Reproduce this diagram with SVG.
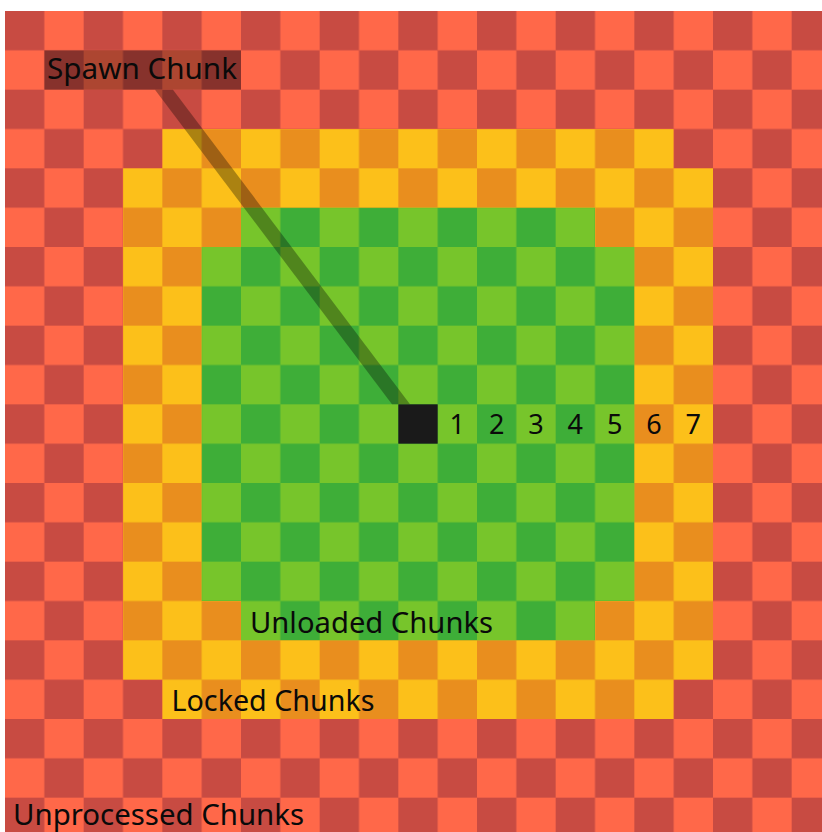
<svg xmlns="http://www.w3.org/2000/svg" width="822" height="832" viewBox="0 0 822 832">
  <defs>
    <pattern id="redChk" patternUnits="userSpaceOnUse" x="5" y="11" width="78.6667" height="78.6667">
      <rect width="78.6667" height="78.6667" fill="#C84B42"/>
      <rect x="39.3333" y="0" width="39.3333" height="39.3333" fill="#FF6849"/>
      <rect x="0" y="39.3333" width="39.3333" height="39.3333" fill="#FF6849"/>
    </pattern>
    <pattern id="yelChk" patternUnits="userSpaceOnUse" x="5" y="11" width="78.6667" height="78.6667">
      <rect width="78.6667" height="78.6667" fill="#E98E1E"/>
      <rect x="39.3333" y="0" width="39.3333" height="39.3333" fill="#FCC01A"/>
      <rect x="0" y="39.3333" width="39.3333" height="39.3333" fill="#FCC01A"/>
    </pattern>
    <pattern id="grnChk" patternUnits="userSpaceOnUse" x="5" y="11" width="78.6667" height="78.6667">
      <rect width="78.6667" height="78.6667" fill="#3EAE38"/>
      <rect x="39.3333" y="0" width="39.3333" height="39.3333" fill="#77C52B"/>
      <rect x="0" y="39.3333" width="39.3333" height="39.3333" fill="#77C52B"/>
    </pattern>
  </defs>
  <style>
    .lbl { font-family: "Noto Sans", "Open Sans", "DejaVu Sans", sans-serif; font-size: 29px; fill: #0A0A0A; }
    .num { font-family: "Noto Sans", "Open Sans", "DejaVu Sans", sans-serif; font-size: 27px; fill: #0A0A0A; text-anchor: middle; }
    .shade { fill: #000000; fill-opacity: 0.32; }
  </style>
  <rect width="822" height="832" fill="#FFFFFF"/>
  <g id="unprocessed-region">
    <rect x="5" y="11" width="817" height="821" fill="url(#redChk)"/>
  </g>
  <g id="locked-region">
    <polygon fill="url(#yelChk)" points="162.333,129 673.667,129 673.667,168.333 713,168.333 713,679.667 673.667,679.667 673.667,719 162.333,719 162.333,679.667 123,679.667 123,168.333 162.333,168.333"/>
  </g>
  <g id="unloaded-region">
    <polygon fill="url(#grnChk)" points="241,207.667 595,207.667 595,247 634.333,247 634.333,601 595,601 595,640.333 241,640.333 241,601 201.667,601 201.667,247 241,247"/>
  </g>
  <g id="connectors">
    <polygon class="shade" points="155,89.667 173,89.667 410,404.333 392,404.333"/>
  </g>
  <g id="spawn-chunk">
    <rect x="398.333" y="404.333" width="39.333" height="39.333" fill="#1A1A1A"/>
  </g>
  <g id="spawn-label">
    <rect class="shade" x="44.333" y="50.333" width="196.667" height="39.333"/>
    <text class="lbl" x="47" y="78.5" textLength="190" lengthAdjust="spacingAndGlyphs">Spawn Chunk</text>
  </g>
  <g id="distance-numbers">
    <text class="num" x="457.33" y="434">1</text>
    <text class="num" x="496.67" y="434">2</text>
    <text class="num" x="536" y="434">3</text>
    <text class="num" x="575.33" y="434">4</text>
    <text class="num" x="614.67" y="434">5</text>
    <text class="num" x="654" y="434">6</text>
    <text class="num" x="693.33" y="434">7</text>
  </g>
  <g id="unloaded-label">
    <text class="lbl" x="250" y="633.3" textLength="243" lengthAdjust="spacingAndGlyphs">Unloaded Chunks</text>
  </g>
  <g id="locked-label">
    <text class="lbl" x="171.5" y="711" textLength="203" lengthAdjust="spacingAndGlyphs">Locked Chunks</text>
  </g>
  <g id="unprocessed-label">
    <text class="lbl" x="13" y="825" textLength="291" lengthAdjust="spacingAndGlyphs">Unprocessed Chunks</text>
  </g>
</svg>
